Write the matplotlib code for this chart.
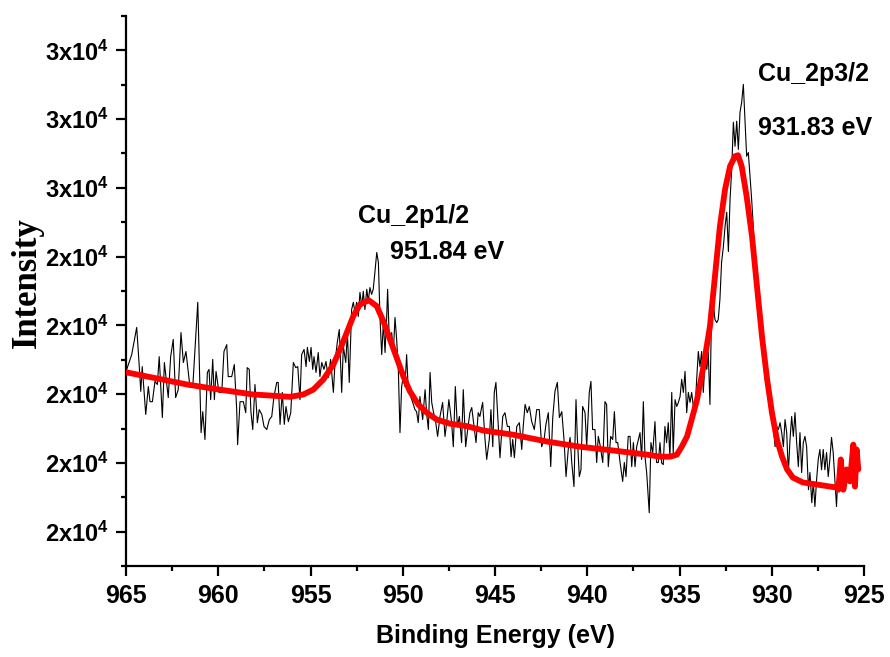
import matplotlib
matplotlib.use("Agg")
import matplotlib.pyplot as plt
from matplotlib.ticker import MultipleLocator, FuncFormatter

# XPS Cu 2p region: measured spectrum (binding energy in eV, counts)
binding_energy = [
    964.96, 964.69, 964.42, 964.28, 964.20, 964.12, 963.93, 963.79, 963.70, 963.57,
    963.43, 963.30, 963.20, 963.03, 962.92, 962.71, 962.58, 962.44, 962.31, 962.17,
    962.02, 961.89, 961.75, 961.53, 961.38, 961.11, 960.93, 960.84, 960.72, 960.59,
    960.50, 960.41, 960.30, 960.21, 960.12, 959.96, 959.81, 959.69, 959.54, 959.46,
    959.27, 959.13, 959.00, 958.95, 958.82, 958.64, 958.51, 958.43, 958.32, 958.23,
    958.13, 958.01, 957.88, 957.78, 957.64, 957.52, 957.37, 957.23, 957.10, 956.98,
    956.83, 956.75, 956.65, 956.53, 956.42, 956.33, 956.20, 956.07, 955.93, 955.80,
    955.69, 955.57,
    955.48, 955.35, 955.24, 955.17, 955.06, 954.97, 954.88, 954.81, 954.70, 954.58,
    954.49, 954.39, 954.27, 954.16, 954.04, 953.91, 953.76, 953.67, 953.55, 953.44,
    953.31, 953.22, 953.09, 953.00, 952.90, 952.77, 952.68, 952.59, 952.50, 952.41,
    952.32, 952.22, 952.14, 952.05, 951.95, 951.87, 951.78, 951.69, 951.60, 951.51,
    951.41, 951.32, 951.23, 951.14, 951.05, 950.96, 950.87, 950.82, 950.73, 950.60,
    950.51, 950.42, 950.33, 950.24, 950.15, 950.06, 949.97, 949.88, 949.79, 949.70,
    949.57, 949.46, 949.34, 949.25, 949.16, 949.07, 948.92, 948.79, 948.70, 948.61,
    948.52, 948.43, 948.34, 948.21, 948.11, 947.98, 947.84, 947.71, 947.62, 947.50,
    947.35, 947.26, 947.15, 947.04, 946.93, 946.81, 946.72, 946.59, 946.48, 946.36,
    946.26, 946.18, 946.03, 945.91, 945.82,
    945.67, 945.54, 945.45, 945.31, 945.22, 945.12, 945.04, 944.95, 944.82, 944.73,
    944.58, 944.46, 944.33, 944.22, 944.13, 944.04, 943.95, 943.82, 943.68, 943.55,
    943.47, 943.37, 943.25, 943.14, 943.01, 942.87, 942.74, 942.60, 942.47, 942.34,
    942.24, 942.11, 941.98, 941.87, 941.75, 941.62, 941.51, 941.38, 941.26, 941.15,
    941.03, 940.93, 940.84, 940.72, 940.61, 940.54, 940.43, 940.34, 940.25, 940.12,
    940.03, 939.89, 939.80, 939.71, 939.58, 939.49, 939.40, 939.31, 939.16, 939.04,
    938.95, 938.86, 938.73, 938.62, 938.53, 938.44, 938.35, 938.22, 938.08, 937.99,
    937.90, 937.78, 937.68, 937.59, 937.50, 937.41, 937.32, 937.23, 937.14, 937.05,
    936.96, 936.87, 936.78, 936.64, 936.55, 936.45, 936.33, 936.24, 936.15, 936.06,
    935.97, 935.88, 935.79, 935.70, 935.61, 935.52, 935.42, 935.34, 935.24, 935.15,
    935.06, 934.97, 934.88, 934.79, 934.70, 934.61, 934.52, 934.43, 934.34, 934.25,
    934.16, 934.07, 933.98, 933.89, 933.80, 933.71, 933.61, 933.52, 933.44, 933.35,
    933.25, 933.17, 933.08, 932.98, 932.90, 932.81, 932.72, 932.62, 932.53, 932.44,
    932.35, 932.26, 932.17, 932.08, 931.99, 931.90, 931.81, 931.72, 931.63, 931.54,
    931.45, 931.36, 931.27, 931.18, 931.09, 931.00, 930.91, 930.82, 930.73, 930.64,
    930.55, 930.46, 930.37, 930.27, 930.19, 930.09, 930.00, 929.91, 929.82, 929.73,
    929.64, 929.55, 929.46, 929.37, 929.28, 929.19, 929.10, 929.01, 928.92, 928.83,
    928.74, 928.65, 928.56, 928.47, 928.38, 928.29, 928.20, 928.11, 928.01, 927.93,
    927.83, 927.75, 927.66, 927.57, 927.48, 927.39, 927.30, 927.21, 927.12, 927.03,
    926.94, 926.85, 926.76, 926.67, 926.58, 926.49, 926.40,
]

counts = [
    20720, 21150, 21940, 20800, 20080, 20800, 19410, 20220, 19780, 19780,
    20370, 20280, 21090, 19320, 20920, 19900, 21090, 21590, 19900, 20130,
    21790, 20920, 21240, 20190, 20220, 22670, 18880, 19490, 18680, 20630,
    20720, 19840, 21010, 19840, 20660, 20050, 20050, 21240, 21440, 20510,
    20510, 20860, 19550, 18530, 19780, 19780, 19460, 20770, 20720, 19490,
    18970, 20280, 19170, 19550, 19410, 19060, 18970, 19260, 19350, 19930,
    20340, 20340, 19120, 20050, 19120, 19640, 19200, 19460, 20920, 20770,
    20800, 19840,
    21150, 21300, 20800, 21360, 20950, 21360, 20720, 21090, 20630, 21210,
    20510, 20920, 20720, 20950, 20480, 21010, 20050, 20920, 21500, 21880,
    20050, 21390, 20920, 21790, 20340, 22460, 22670, 22380, 22670, 22260,
    22960, 22550, 22990, 22460, 23050, 22700, 23100, 22900, 23050, 23540,
    24120, 23830, 22170, 21150, 22080, 21210, 22260, 23050, 21590, 21790,
    21210, 22230, 21590, 20720, 18880, 20220, 20510, 20220, 21150, 20130,
    19930, 19760, 19550, 19490, 19170, 19930, 19260, 20130, 19410, 18970,
    20630, 19760, 19490, 19170, 18770, 19350, 19760, 18770, 19170, 19840,
    19170, 18470, 20220, 19060, 19350, 18590, 20130, 18470, 18970, 19460,
    19610, 19260, 18590, 19460, 19350,
    19760, 18680, 18100, 18680, 19550, 18470, 20050, 20340, 19060, 18150,
    19350, 19460, 19060, 19060, 18180, 18680, 18150, 19060, 19170, 18390,
    19060, 19700, 19460, 19640, 19200, 18970, 19550, 19550, 18470, 18680,
    19120, 19460, 17890, 19320, 20080, 20340, 19320, 19490, 18680, 17600,
    18390, 18740, 18010, 17310, 19840, 18770, 17600, 17800, 19640, 19460,
    18470, 20050, 20370, 18970, 18970, 18010, 18770, 18530, 18010, 19780,
    19700, 17890, 18770, 18680, 19490, 18590, 18590, 18010, 17460, 18010,
    17600, 18770, 18770, 17890, 18590, 17890, 18470, 18680, 18880, 18100,
    19780, 18180, 17720, 16550, 18590, 18300, 19200, 18010, 18010, 18590,
    18000, 17950, 19060, 18590, 19170, 18180, 20050, 18300, 19840, 19640,
    19760, 19930, 20430, 20050, 20660, 19460, 20050, 19760, 20050, 19640,
    19460, 20430, 21240, 20800, 21240, 20050, 21010, 20720, 21210, 19700,
    22810, 22670, 22170, 22080, 22170, 22750, 23830, 24300, 24880, 25290,
    24150, 25670, 26540, 27910, 27210, 27940, 27120, 28200, 28490, 29010,
    27990, 26920, 27030, 26330, 25670, 24880, 23540, 23340, 22960, 21790,
    21500, 21210, 20430, 20630, 20050, 19460, 19260, 19060, 18470, 19060,
    18970, 19170, 18880, 18470, 19260, 18880, 17720, 18680, 19350, 18770,
    19460, 18590, 17890, 18880, 17720, 18590, 18770, 18470, 17220, 17720,
    16840, 17430, 16730, 17510, 18100, 18390, 17800, 18390, 17800, 18300,
    17600, 18100, 18740, 18300, 17510, 16730, 17800,
]

# Fitted envelope (background + Cu 2p1/2 and Cu 2p3/2 components)
fit_energy = [
    964.95, 963.54, 961.69, 959.91, 958.12, 957.20, 956.11, 955.39, 954.85, 954.31,
    953.76, 953.40, 953.04, 952.68, 952.32, 951.84, 951.41, 951.05, 950.69, 950.33,
    949.97, 949.61, 949.16, 948.70, 948.16, 947.44, 946.53, 945.63, 944.02, 942.18,
    940.39, 938.60, 936.76, 936.06, 935.51, 935.14, 934.88, 934.59, 934.34, 934.05,
    933.73, 933.35, 933.08, 932.81, 932.53, 932.26, 931.99, 931.83, 931.63, 931.36,
    931.07, 930.80, 930.53, 930.25, 929.99, 929.72, 929.44, 929.17, 928.85, 928.31,
    927.55, 926.46, 926.39, 926.26, 926.12, 925.94, 925.76, 925.58, 925.49, 925.40,
    925.31,
]
fit_counts = [
    20630, 20480, 20280, 20130, 19990, 19960, 19920, 19990, 20130, 20420,
    20860, 21300, 21780, 22270, 22610, 22730, 22560, 22120, 21590, 21060,
    20520, 20080, 19700, 19460, 19260, 19140, 19070, 18940, 18820, 18620,
    18470, 18360, 18240, 18180, 18180, 18240, 18470, 18770, 19260, 19840,
    20720, 21970, 23420, 24880, 25960, 26630, 26920, 26950, 26630, 25750,
    24590, 23130, 21680, 20430, 19460, 18680, 18180, 17810, 17570, 17430,
    17370, 17280, 17220, 18100, 17220, 17810, 17460, 18530, 17310, 18390,
    17810,
]

# Peak labels
peak_names = ["Cu_2p1/2", "Cu_2p3/2"]
peak_values = ["951.84 eV", "931.83 eV"]

plt.rcParams["mathtext.fontset"] = "custom"
plt.rcParams["mathtext.rm"] = "Liberation Sans:bold"
plt.rcParams["mathtext.it"] = "Liberation Sans:bold"
plt.rcParams["mathtext.bf"] = "Liberation Sans:bold"

SANS = "Liberation Sans"

fig = plt.figure(figsize=(8.9, 6.57), dpi=100)
ax = fig.add_axes([126 / 890, 91 / 657, 738 / 890, 550 / 657])

ax.plot(binding_energy, counts, color="black", lw=0.8, zorder=2)
ax.plot(fit_energy, fit_counts, color="#ff0000", lw=4.2, zorder=3,
        solid_joinstyle="round", solid_capstyle="round")

ax.set_xlim(965, 925)
ax.set_ylim(15000, 31000)

ax.xaxis.set_major_locator(MultipleLocator(5))
ax.xaxis.set_minor_locator(MultipleLocator(2.5))
ax.yaxis.set_major_locator(MultipleLocator(2000))
ax.yaxis.set_minor_locator(MultipleLocator(1000))


def sci_label(v, pos):
    lead = int(round(v / 1e4))
    return f"{lead}x10$^{{4}}$"


ax.yaxis.set_major_formatter(FuncFormatter(sci_label))
ax.xaxis.set_major_formatter(FuncFormatter(lambda v, p: f"{int(round(v))}"))

for side in ("top", "right"):
    ax.spines[side].set_visible(False)
for side in ("left", "bottom"):
    ax.spines[side].set_linewidth(1.6)

ax.tick_params(which="major", direction="out", length=7, width=1.6)
ax.tick_params(which="minor", direction="out", length=3.5, width=1.6)
ax.tick_params(axis="x", which="major", pad=6)
ax.tick_params(axis="y", which="major", pad=5)
ax.tick_params(axis="both", which="both", top=False, right=False)

for lab in ax.get_xticklabels():
    lab.set_fontfamily(SANS)
    lab.set_fontweight("bold")
    lab.set_fontsize(18)
for lab in ax.get_yticklabels():
    lab.set_fontfamily(SANS)
    lab.set_fontweight("bold")
    lab.set_fontsize(17)

txt = dict(fontfamily=SANS, fontweight="bold", fontsize=18, ha="left", va="center")
ax.text(952.43, 25170, peak_names[0], **txt)
ax.text(950.69, 24120, peak_values[0], **txt)
ax.text(930.75, 29300, peak_names[1], **txt)
ax.text(930.75, 27750, peak_values[1], **txt)

fig.text(495 / 890, 1 - 636 / 657, "Binding Energy (eV)", fontfamily=SANS,
         fontweight="bold", fontsize=18, ha="center", va="center")
fig.text(27 / 890, 1 - 283 / 657, "Intensity", fontfamily="Liberation Serif",
         fontweight="bold", fontsize=25, rotation=90, ha="center", va="center")

fig.savefig("out.png", dpi=100)
